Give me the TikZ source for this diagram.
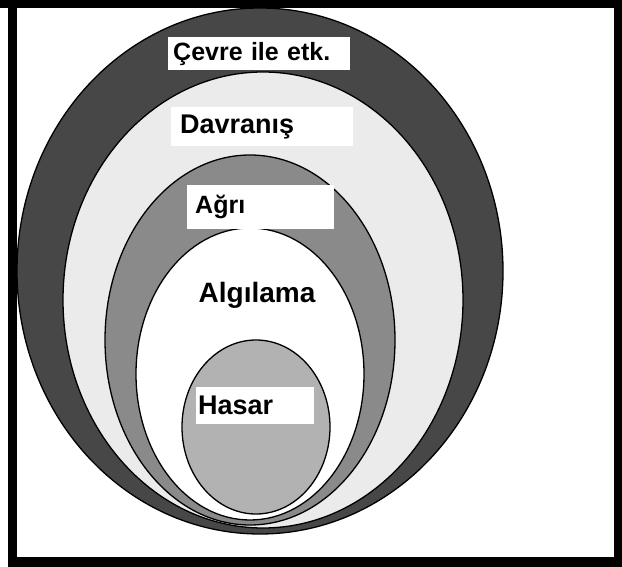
\documentclass[tikz,border=0pt]{standalone}
\usepackage{fontspec}
\setsansfont{Liberation Sans}
\usepackage{tikz}
\usetikzlibrary{positioning}

\definecolor{ringdark}{gray}{0.28}
\definecolor{ringlight}{gray}{0.92}
\definecolor{ringmid}{gray}{0.54}
\definecolor{ringcore}{gray}{0.70}

\tikzset{
	ring/.style={draw=black, line width=1.3pt},
	lblbox/.style={fill=white, anchor=north west, align=left, inner ysep=0pt},
	lbltext/.style={font=\sffamily\bfseries\fontsize{#1}{#1}\selectfont},
}

\begin{document}
\begin{tikzpicture}[x=1pt, y=-1pt]
\useasboundingbox (0,0) rectangle (622,567);
\fill[white] (0,0) rectangle (622,567);

% nested ellipses, outermost first
\filldraw[ring, fill=ringdark]  (260,271) ellipse [x radius=243pt, y radius=263pt];
\filldraw[ring, fill=ringlight] (263,300) ellipse [x radius=200pt, y radius=228pt];
\filldraw[ring, fill=ringmid]   (250,340) ellipse [x radius=145pt, y radius=185pt];
\filldraw[ring, fill=white]     (250,374) ellipse [x radius=114pt, y radius=146pt];
\filldraw[ring, fill=ringcore]  (256,427) ellipse [x radius=74pt,  y radius=87pt];

\node[lblbox, lbltext=25, inner xsep=5pt, text width=172pt, minimum height=33pt] (cevre) at (168,37) {Çevre ile etk.};
\node[lblbox, lbltext=27, inner xsep=9pt, text width=164pt, minimum height=39pt] (davranis) at (171,107) {Davranış};
\node[lblbox, lbltext=25, inner xsep=8pt, text width=131pt, minimum height=44pt] (agri) at (187,185) {Ağrı};
\node[lbltext=28, inner sep=0pt] (algilama) at (257,295) {Algılama};
\node[lblbox, lbltext=27, inner xsep=2pt, text width=114pt, minimum height=37pt] (hasar) at (196,387) {Hasar};

% black frame
\fill[black] (0,0) rectangle (622,8);
\fill[black] (8,0) rectangle (17,567);
\fill[black] (614,0) rectangle (622,567);
\fill[black] (8,557) rectangle (622,567);
\end{tikzpicture}
\end{document}
